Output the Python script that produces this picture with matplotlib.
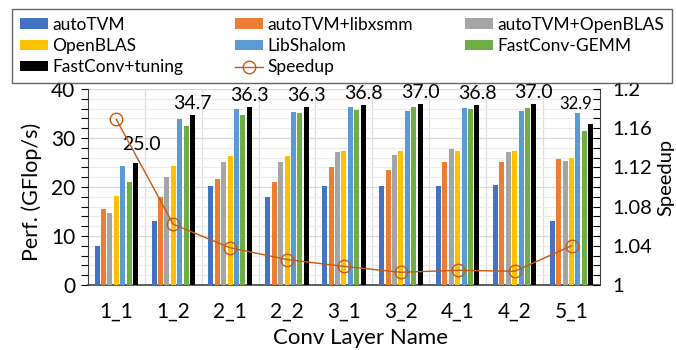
import matplotlib
matplotlib.use("Agg")
import matplotlib.pyplot as plt
import numpy as np
from matplotlib.ticker import MultipleLocator, FuncFormatter

plt.rcParams['font.family'] = ['Lato', 'DejaVu Sans']

layers = ["1_1", "1_2", "2_1", "2_2", "3_1", "3_2", "4_1", "4_2", "5_1"]
autotvm = [8.0, 13.1, 20.3, 18.0, 20.2, 20.3, 20.3, 20.5, 13.1]
autotvm_libxsmm = [15.6, 17.9, 21.6, 21.0, 24.1, 23.5, 25.1, 25.1, 25.7]
autotvm_openblas = [14.6, 22.1, 25.2, 25.1, 27.1, 26.5, 27.7, 27.2, 25.3]
openblas = [18.2, 24.3, 26.3, 26.4, 27.3, 27.4, 27.4, 27.4, 25.9]
libshalom = [24.3, 33.8, 35.9, 35.4, 36.4, 35.5, 36.2, 35.5, 35.2]
fastconv_gemm = [21.1, 32.4, 34.7, 35.2, 35.8, 36.3, 35.9, 36.2, 31.4]
fastconv_tuning = [25.0, 34.7, 36.3, 36.3, 36.8, 37.0, 36.8, 37.0, 32.9]
speedup = [1.169, 1.062, 1.038, 1.026, 1.019, 1.013, 1.015, 1.014, 1.040]

series = [
    ("autoTVM", autotvm, "#4472C4"),
    ("autoTVM+libxsmm", autotvm_libxsmm, "#ED7D31"),
    ("autoTVM+OpenBLAS", autotvm_openblas, "#A5A5A5"),
    ("OpenBLAS", openblas, "#FFC000"),
    ("LibShalom", libshalom, "#5B9BD5"),
    ("FastConv-GEMM", fastconv_gemm, "#70AD47"),
    ("FastConv+tuning", fastconv_tuning, "#000000"),
]

fig = plt.figure(figsize=(6.76, 3.5), dpi=100)
ax = fig.add_axes([0.130, 0.1857, 0.7576, 0.560])
x = np.arange(len(layers))
slot = 0.1125
bw = 0.088
handles = []
for i, (name, vals, col) in enumerate(series):
    b = ax.bar(x + (i - 3) * slot, vals, width=bw, color=col, label=name, zorder=3)
    handles.append(b)

# value labels on FastConv+tuning bars (pixel offsets)
lab_off = [(6, 10), (0, 3), (0, 3), (0, 3), (0, 3), (0, 3), (0, 3), (0, 3), (-15, 12)]
lab_fs = [14, 14, 14, 14, 14, 14, 14, 14, 12]
for k, v in enumerate(fastconv_tuning):
    ax.annotate(f"{v:.1f}", (x[k] + 3 * slot, v), xytext=lab_off[k],
                textcoords="offset pixels", ha="center", va="bottom",
                fontsize=lab_fs[k], color="black", zorder=6)

ax.set_xlim(-0.5, len(layers) - 0.5)
ax.set_ylim(0, 40)
ax.yaxis.set_major_locator(MultipleLocator(10))
ax.yaxis.set_minor_locator(MultipleLocator(2))
ax.set_xticks(x)
ax.set_xticklabels(layers)
ax.tick_params(axis="x", length=0, labelsize=15, pad=12)
ax.tick_params(axis="y", which="major", length=5, direction="out", labelsize=15, width=0.8, pad=4)
ax.tick_params(axis="y", which="minor", length=5, direction="out", width=0.8)
ax.grid(axis="y", which="minor", color="#ECECEC", linewidth=0.8, zorder=0)
ax.grid(axis="y", which="major", color="#D9D9D9", linewidth=0.9, zorder=0)
for b in np.arange(0.5, len(layers) - 0.5, 1.0):
    ax.axvline(b, color="#DDDDDD", linewidth=0.9, zorder=0)
for s in ["top", "right"]:
    ax.spines[s].set_visible(False)
ax.spines["left"].set_color("#404040")
ax.spines["bottom"].set_color("#404040")
ax.spines["bottom"].set_linewidth(1.2)
ax.set_ylabel("Perf. (GFlop/s)", fontsize=15.5, va="center", ha="center")
ax.yaxis.set_label_coords(-0.109, 0.474)
fig.text(360 / 676, 1 - 338 / 350, "Conv Layer Name", fontsize=16,
         ha="center", va="center")

ax2 = ax.twinx()
ax2.set_ylim(1.0, 1.2)
ax2.yaxis.set_major_locator(MultipleLocator(0.04))
ax2.yaxis.set_minor_locator(MultipleLocator(0.01))
ax2.yaxis.set_major_formatter(FuncFormatter(lambda v, p: f"{v:.2f}".rstrip("0").rstrip(".")))
ax2.tick_params(axis="y", which="both", length=5, direction="in", labelsize=14.5, width=0.8, pad=9)
for s in ["top", "left", "bottom"]:
    ax2.spines[s].set_visible(False)
ax2.spines["right"].set_color("#404040")
line, = ax2.plot(x, speedup, color="#C55A11", linewidth=1.0, marker="o",
                 markersize=9, markerfacecolor="none", markeredgecolor="#C55A11",
                 markeredgewidth=1.0, label="Speedup", zorder=5)
fig.text(666 / 676, 1 - 177 / 350, "Speedup", fontsize=14.5, rotation=90,
         ha="center", va="center")

order = [handles[0], handles[3], handles[6], handles[1], handles[4], line, handles[2], handles[5]]
labels = [h.get_label() for h in order]
leg = fig.legend(order, labels, ncol=3, loc="upper left",
                 bbox_to_anchor=(12 / 676, 1 - 79 / 350, 660 / 676, 70 / 350),
                 mode="expand", fontsize=12.5, frameon=True, fancybox=False,
                 edgecolor="#404040", handlelength=1.6, handleheight=0.55,
                 handletextpad=0.25, labelspacing=0.3, borderpad=0.45,
                 borderaxespad=0)
leg.get_frame().set_linewidth(1.0)

fig.savefig("out.png", dpi=100)
